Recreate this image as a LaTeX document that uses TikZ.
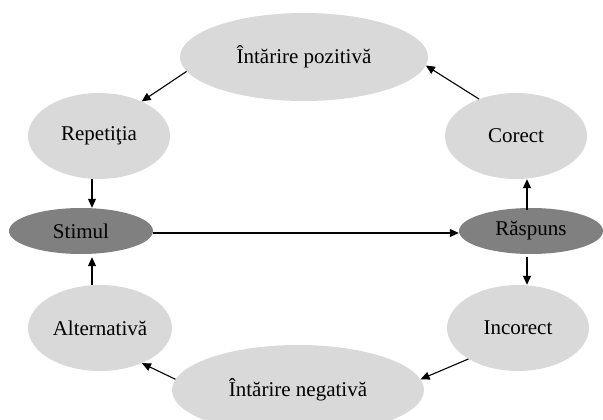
\documentclass[tikz,border=0pt]{standalone}
\usepackage{fontspec}
\setmainfont{Liberation Serif}
\usetikzlibrary{shapes.geometric, arrows.meta}
\definecolor{lightfill}{RGB}{217,217,217}
\definecolor{darkfill}{RGB}{128,128,128}
\begin{document}
\begin{tikzpicture}[x = 1pt, y = -1pt,
    bubble/.style = {ellipse, inner sep = 0pt, fill = lightfill, font = \fontsize{21}{24}\selectfont},
    core/.style = {bubble, fill = darkfill},
    link/.style = {-{Triangle[length = 9pt, width = 8pt]}, line width = 1.1pt}]
	\clip (0, 0) rectangle (603, 420);
	\node [bubble, minimum width = 248, minimum height = 88] at (304, 57) (poz) {Întărire pozitivă};
	\node [bubble, minimum width = 142, minimum height = 86] at (99, 136) (rep) {Repetiţia};
	\node [bubble, minimum width = 142, minimum height = 86] at (516, 136) (cor) {Corect};
	\node [core, minimum width = 144, minimum height = 46] at (81, 231) (stim) {Stimul};
	\node [core, minimum width = 144, minimum height = 46] at (531, 231) (rasp) {Răspuns};
	\node [bubble, minimum width = 144, minimum height = 86] at (100, 328) (alt) {Alternativă};
	\node [bubble, minimum width = 142, minimum height = 86] at (518, 328) (inc) {Incorect};
	\node [bubble, minimum width = 252, minimum height = 90] at (298, 390) (neg) {Întărire negativă};
        \draw [link] (poz.187) to (rep.39);
        \draw [link] (cor.135) to (poz.-4);
        \draw [link] ([xshift = -7pt]rep.south) to ([xshift = 11pt]stim.north);
        \draw [link] ([xshift = -8pt]alt.north) to ([xshift = 11pt, yshift = -3pt]stim.south);
        \draw [link] ([yshift = -2pt]stim.east) to ([yshift = -2pt]rasp.west);
        \draw [link] ([xshift = -4pt, yshift = -2pt]rasp.north) to ([xshift = 11pt]cor.south);
        \draw [link] ([xshift = -4pt, yshift = -3pt]rasp.south) to ([xshift = 9pt]inc.north);
        \draw [link] (inc.212) to (neg.5);
        \draw [link] (neg.175) to (alt.-40);
\end{tikzpicture}
\end{document}
